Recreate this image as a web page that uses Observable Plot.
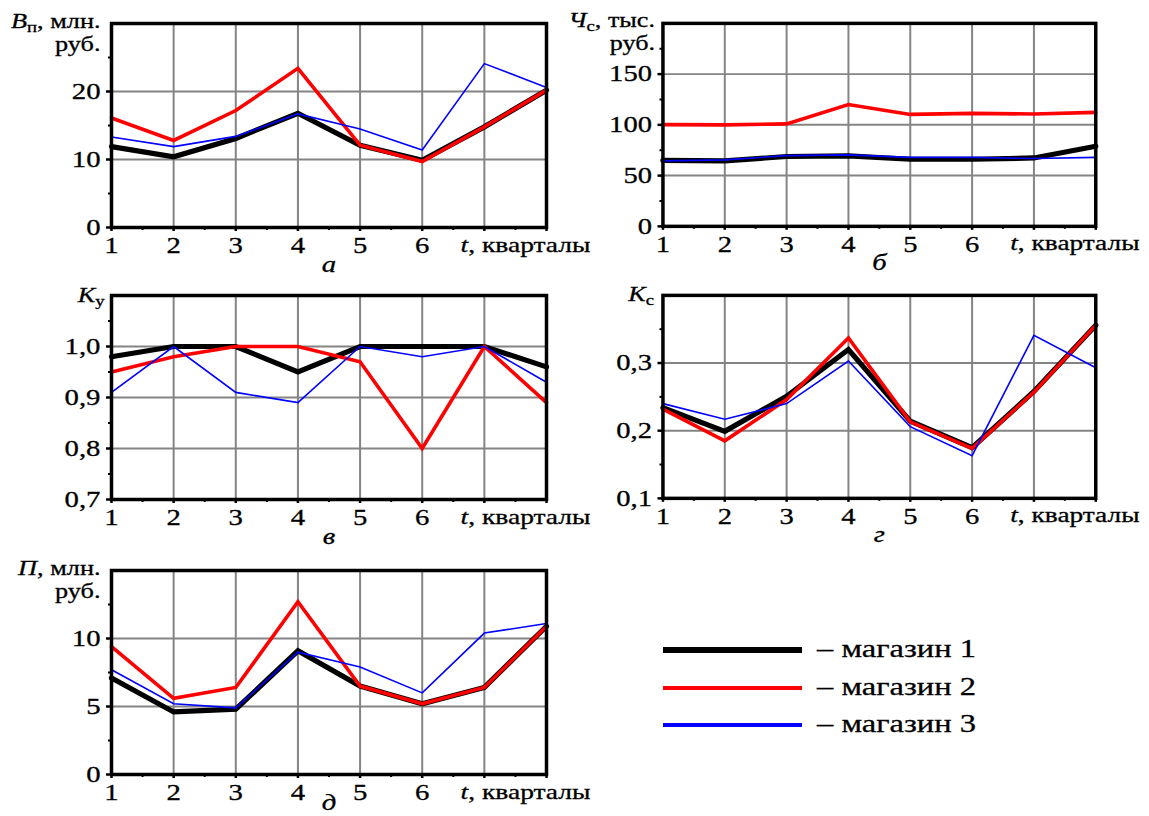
<!DOCTYPE html>
<html>
<head>
<meta charset="utf-8">
<script src="https://cdn.jsdelivr.net/npm/d3@7"></script>
<script src="https://cdn.jsdelivr.net/npm/@observablehq/plot@0.6"></script>
<style>
  html, body { margin: 0; padding: 0; background: #fff; }
  body { width: 1149px; height: 816px; overflow: hidden; position: relative; font-family: "Liberation Serif", serif; }
  .panel { position: absolute; }
  .panel svg { overflow: visible; }
  .leg-line { position: absolute; }
  .leg-text { position: absolute; font-family: "Liberation Serif", serif; font-size: 26px; line-height: 26px; white-space: nowrap; transform: scaleX(1.25); transform-origin: left center; color: #000; -webkit-text-stroke: 0.3px #000; }
</style>
</head>
<body>
<div id="chart"></div>
<script>
// ---- data ----
const quarters = [1, 2, 3, 4, 5, 6, 7, 8];
const quarterLabels = ["1", "2", "3", "4", "5", "6"];
const shops = ["магазин 1", "магазин 2", "магазин 3"];
const shopColors = ["#000000", "#ff0000", "#0000ff"];

// а: В_п, млн. руб.
const salesShop1 = [11.9, 10.4, 13.1, 16.8, 12.1, 9.9, 14.8, 20.2];
const salesShop2 = [16.1, 12.8, 17.2, 23.4, 12.1, 9.7, 14.8, 20.2];
const salesShop3 = [13.3, 11.9, 13.4, 16.7, 14.5, 11.4, 24.1, 20.6];

// б: Ч_с, тыс. руб.
const costShop1 = [65, 64.5, 68.8, 69.4, 66.1, 66.1, 67.4, 79];
const costShop2 = [100.2, 100, 101, 120, 110.3, 111.3, 110.7, 112.3];
const costShop3 = [64.5, 65.5, 69.7, 70.4, 68, 68, 66.8, 68];

// в: К_у
const kuShop1 = [0.98, 1.0, 1.0, 0.95, 1.0, 1.0, 1.0, 0.96];
const kuShop2 = [0.95, 0.98, 1.0, 1.0, 0.97, 0.80, 1.0, 0.89];
const kuShop3 = [0.91, 1.0, 0.91, 0.89, 1.0, 0.98, 1.0, 0.93];

// г: К_с
const ksShop1 = [0.234, 0.199, 0.251, 0.320, 0.214, 0.175, 0.258, 0.356];
const ksShop2 = [0.232, 0.185, 0.246, 0.337, 0.213, 0.174, 0.257, 0.356];
const ksShop3 = [0.240, 0.217, 0.240, 0.303, 0.206, 0.163, 0.341, 0.293];

// д: П, млн. руб.
const profitShop1 = [7.1, 4.6, 4.8, 9.1, 6.5, 5.2, 6.4, 10.9];
const profitShop2 = [9.4, 5.6, 6.4, 12.7, 6.5, 5.2, 6.4, 10.9];
const profitShop3 = [7.7, 5.2, 4.9, 9.0, 7.9, 6.0, 10.4, 11.1];

// tick labels
const ticksA = [0, 10, 20], minorA = [5, 15, 25];
const ticksB = [0, 50, 100, 150], minorB = [25, 75, 125, 175];
const ticksV = [0.7, 0.8, 0.9, 1.0], minorV = [0.75, 0.85, 0.95, 1.05];
const ticksG = [0.1, 0.2, 0.3], minorG = [0.15, 0.25, 0.35];
const ticksD = [0, 5, 10], minorD = [2.5, 7.5, 12.5];

// ---- styling ----
const FONT = "'Liberation Serif', serif";
const lineWidths = [5.2, 3.6, 1.6];
const STRETCH = 1.25;
const intFmt = d => String(d);
const decFmt = d => d.toFixed(1).replace(".", ",");

const RICH = {
  "t, кварталы": '<tspan font-style="italic">t</tspan>, кварталы',
  "Вп, млн.": '<tspan font-style="italic">В</tspan><tspan font-size="15" dy="4">п</tspan><tspan dy="-4">, млн.</tspan>',
  "Чс, тыс.": '<tspan font-style="italic">Ч</tspan><tspan font-size="15" dy="4">с</tspan><tspan dy="-4">, тыс.</tspan>',
  "Ку": '<tspan font-style="italic">К</tspan><tspan font-size="15" dy="4">у</tspan>',
  "Кс": '<tspan font-style="italic">К</tspan><tspan font-size="15" dy="4">с</tspan>',
  "П, млн.": '<tspan font-style="italic">П</tspan>, млн.'
};

const panels = [
  {left: 0, top: 0, series: [salesShop1, salesShop2, salesShop3], domain: [0, 30], ticks: ticksA, minor: minorA, fmt: intFmt, titles: ["Вп, млн.", "руб."], titleDx: -11, titleDy: 4, letter: "а", letterDy: 44},
  {left: 552, top: 0, series: [costShop1, costShop2, costShop3], domain: [0, 200], ticks: ticksB, minor: minorB, fmt: intFmt, titles: ["Чс, тыс.", "руб."], titleDx: -8, titleDy: 4, letter: "б", letterDy: 44},
  {left: 0, top: 272, series: [kuShop1, kuShop2, kuShop3], domain: [0.7, 1.1], ticks: ticksV, minor: minorV, fmt: decFmt, titles: ["Ку"], titleDx: -7, titleDy: 6, letter: "в", letterDy: 44},
  {left: 552, top: 272, series: [ksShop1, ksShop2, ksShop3], domain: [0.1, 0.4], ticks: ticksG, minor: minorG, fmt: decFmt, titles: ["Кс"], titleDx: -9, titleDy: 6, letter: "г", letterDy: 44},
  {left: 0, top: 547, series: [profitShop1, profitShop2, profitShop3], domain: [0, 15], ticks: ticksD, minor: minorD, fmt: intFmt, titles: ["П, млн.", "руб."], titleDx: -11, titleDy: 4, letter: "д", letterDy: 35}
];

function styleTexts(svg) {
  d3.select(svg).selectAll("text").each(function () {
    const t = this.textContent;
    if (RICH[t]) this.innerHTML = RICH[t];
    this.style.fontFamily = FONT;
    this.style.stroke = "#000";
    this.style.strokeWidth = "0.3px";
    const tr = this.getAttribute("transform") || "";
    const x = +(this.getAttribute("x") || 0);
    this.setAttribute("transform", `${tr} translate(${x},0) scale(${STRETCH},1) translate(${-x},0)`);
  });
}

const chart = document.getElementById("chart");

for (const p of panels) {
  const rows = shops.map((s, k) => quarters.map((q, i) => ({shop: s, t: q, v: p.series[k][i]})));
  const marks = [
    Plot.ruleX(quarters.slice(1, -1), {stroke: "#848484", strokeWidth: 2}),
    Plot.ruleY(p.ticks, {stroke: "#848484", strokeWidth: 2}),
    ...rows.map((r, k) => Plot.line(r, {x: "t", y: "v", stroke: shopColors[k], strokeWidth: lineWidths[k], strokeLinejoin: "miter", strokeMiterlimit: 3})),
    Plot.axisX({ticks: quarters, tickSize: 4, tickPadding: 5, strokeWidth: 2.5, tickFormat: d => (d <= quarterLabels.length ? quarterLabels[d - 1] : ""), label: null, fontSize: 23}),
    Plot.axisX({ticks: quarters.slice(0, -1).map(q => q + 0.5), tickSize: 3, strokeWidth: 2, tickFormat: () => "", label: null}),
    Plot.axisY({ticks: p.ticks, tickSize: 5, tickPadding: 6, strokeWidth: 2.5, tickFormat: p.fmt, label: null, fontSize: 23}),
    Plot.axisY({ticks: p.minor, tickSize: 3, strokeWidth: 2, tickFormat: () => "", label: null}),
    Plot.frame({stroke: "#000", strokeWidth: 3.5}),
    Plot.text(["t, кварталы"], {frameAnchor: "bottom-right", textAnchor: "end", lineAnchor: "bottom", dx: 44, dy: 24, fontSize: 22}),
    Plot.text([p.letter], {frameAnchor: "bottom", textAnchor: "middle", lineAnchor: "bottom", dy: p.letterDy, fontSize: 23, fontStyle: "italic"}),
    ...p.titles.map((t, j) => Plot.text([t], {frameAnchor: "top-left", textAnchor: "end", lineAnchor: "bottom", dx: p.titleDx, dy: p.titleDy + j * 23, fontSize: 21}))
  ];
  const svg = Plot.plot({
    width: 600,
    height: 282,
    marginLeft: 111,
    marginRight: 54,
    marginTop: 23,
    marginBottom: 55,
    x: {domain: [1, 8]},
    y: {domain: p.domain},
    style: {fontFamily: FONT, fontSize: "22px", color: "#000", background: "transparent", overflow: "visible"},
    marks
  });
  styleTexts(svg);
  const div = document.createElement("div");
  div.className = "panel";
  div.style.left = p.left + "px";
  div.style.top = p.top + "px";
  div.appendChild(svg);
  chart.appendChild(div);
}

// ---- legend ----
const legendWidths = [6, 4.4, 3.3];
const legendY = [650, 688, 725];
shops.forEach((s, k) => {
  const ln = document.createElement("div");
  ln.className = "leg-line";
  ln.style.left = "663px";
  ln.style.width = "139px";
  ln.style.top = (legendY[k] - legendWidths[k] / 2) + "px";
  ln.style.height = legendWidths[k] + "px";
  ln.style.background = shopColors[k];
  chart.appendChild(ln);
  const tx = document.createElement("div");
  tx.className = "leg-text";
  tx.style.left = "817px";
  tx.style.top = (legendY[k] + 8 - 22) + "px";
  tx.textContent = "– " + s;
  chart.appendChild(tx);
});
</script>
</body>
</html>
